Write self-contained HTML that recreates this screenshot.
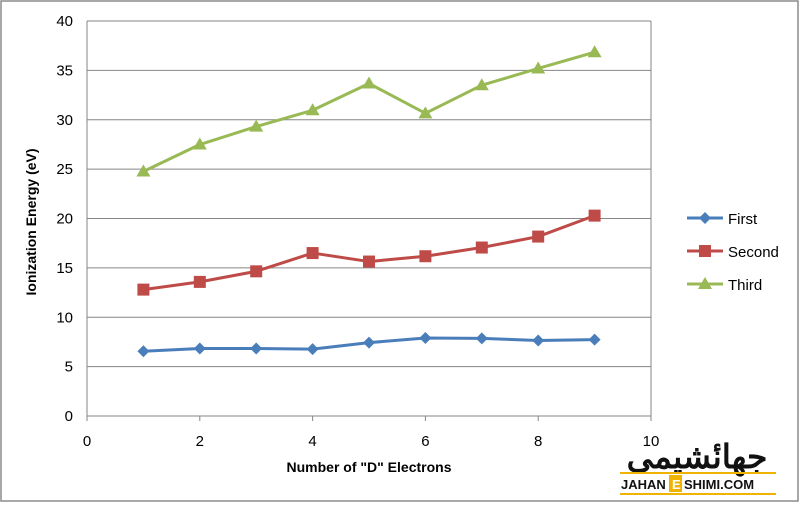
<!DOCTYPE html>
<html><head><meta charset="utf-8"><style>
html,body{margin:0;padding:0;background:#fff}
svg text{font-family:"Liberation Sans",Arial,sans-serif}
</style></head><body>
<svg id="chart" width="800" height="503" viewBox="0 0 800 503" xmlns="http://www.w3.org/2000/svg">
<rect x="1" y="1" width="797" height="500" fill="#fff" stroke="#8c8c8c" stroke-width="1.5"/>
<g id="grid"></g>
<g id="axes"></g>
<g id="series"></g>
<text x="36" y="222" transform="rotate(-90 36 222)" text-anchor="middle" font-size="14" font-weight="bold" fill="#000">Ionization Energy (eV)</text>
<text x="369" y="472" text-anchor="middle" font-size="14" font-weight="bold" fill="#000">Number of "D" Electrons</text>
<g id="legend"></g>
<g>
<text x="697" y="468" text-anchor="middle" font-size="33" font-weight="bold" fill="#111" font-family="'Liberation Sans','DejaVu Sans',sans-serif">جهان<tspan fill="#f0b400">ٔ</tspan>شیمی</text>
<rect x="620" y="472" width="156" height="2" fill="#f0b400"/>
<text x="621" y="489" font-size="13" font-weight="bold" fill="#111">JAHAN</text>
<rect x="669" y="475" width="13" height="17" fill="#f0b400"/>
<text x="672" y="489" font-size="13" font-weight="bold" fill="#fff">E</text>
<text x="684" y="489" font-size="13" font-weight="bold" fill="#111">SHIMI.COM</text>
<rect x="620" y="493" width="156" height="2" fill="#f0b400"/>
</g>
</svg>
<script>
const xValues=[1,2,3,4,5,6,7,8,9];
const firstIE=[6.56,6.83,6.83,6.77,7.43,7.90,7.86,7.64,7.73];
const secondIE=[12.8,13.58,14.65,16.5,15.64,16.18,17.06,18.17,20.29];
const thirdIE=[24.76,27.49,29.31,30.96,33.67,30.65,33.50,35.19,36.84];
const yTicks=[0,5,10,15,20,25,30,35,40];
const xTicks=[0,2,4,6,8,10];
const seriesNames=["First","Second","Third"];

const NS="http://www.w3.org/2000/svg";
const L=87,R=651,T=21,B=416;
const xs=v=>L+(v-0)/(10-0)*(R-L);
const ys=v=>B-(v-0)/(40-0)*(B-T);
function mk(tag,attrs,parent){const e=document.createElementNS(NS,tag);for(const k in attrs)e.setAttribute(k,attrs[k]);parent.appendChild(e);return e;}
const grid=document.getElementById('grid'),axes=document.getElementById('axes'),ser=document.getElementById('series'),leg=document.getElementById('legend');
yTicks.forEach(t=>{
 const ln=mk('line',{x1:L,x2:R,y1:ys(t),y2:ys(t),stroke:'#868686','stroke-width':1},grid);
 
 
 const tx=mk('text',{x:L-14,y:ys(t)+5,'text-anchor':'end','font-size':15,fill:'#000'},axes);
 tx.textContent=t;
 
 
});
const ax=mk('line',{x1:L,x2:L,y1:T,y2:B,stroke:'#868686','stroke-width':1},axes);


const rx=mk('line',{x1:R,x2:R,y1:T,y2:B,stroke:'#868686','stroke-width':1},axes);


xTicks.forEach(t=>{
 const tk=mk('line',{x1:xs(t),x2:xs(t),y1:B,y2:B+5,stroke:'#868686'},axes);
 
 
 const tx=mk('text',{x:xs(t),y:B+30,'text-anchor':'middle','font-size':15,fill:'#000'},axes);
 tx.textContent=t;
 
 
});
function marker(type,x,y,color,parent){
 if(type==='diamond')return mk('polygon',{points:`${x},${y-6} ${x+6},${y} ${x},${y+6} ${x-6},${y}`,fill:color},parent);
 if(type==='square')return mk('rect',{x:x-6,y:y-6,width:12,height:12,fill:color},parent);
 return mk('polygon',{points:`${x},${y-7} ${x+7},${y+5} ${x-7},${y+5}`,fill:color},parent);
}
const defs=[[firstIE,'#4a7ebb','diamond'],[secondIE,'#be4b48','square'],[thirdIE,'#98b954','triangle']];
defs.forEach((d,i)=>{
 const [vals,color,m]=d;
 const g=mk('g',{},ser);
 
 
 const pl=mk('polyline',{points:vals.map((v,j)=>xs(xValues[j])+','+ys(v)).join(' '),fill:'none',stroke:color,'stroke-width':3,'stroke-linejoin':'round'},g);
 
 
 vals.forEach((v,j)=>{
  const mm=marker(m,xs(xValues[j]),ys(v),color,g);
  
  
 });
 const ly=218+i*33;
 const le=mk('g',{},leg);
 
 
 mk('line',{x1:687,x2:723,y1:ly,y2:ly,stroke:color,'stroke-width':3},le);
 marker(m,705,ly,color,le);
 const t=mk('text',{x:728,y:ly+6,'font-size':15,fill:'#000'},le);
 t.textContent=seriesNames[i];
});
</script>
</body></html>
